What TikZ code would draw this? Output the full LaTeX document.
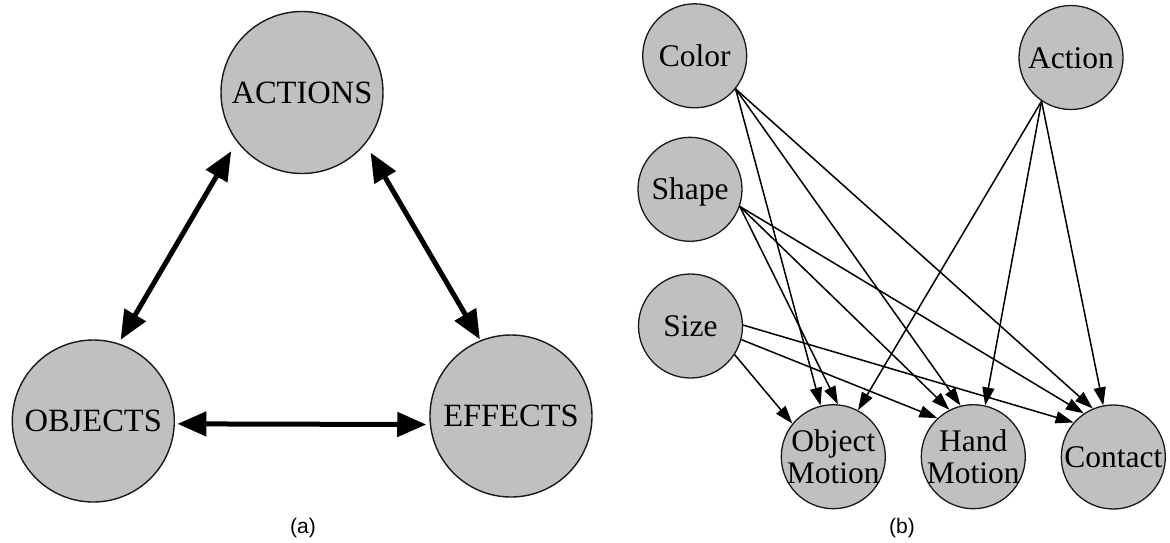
\documentclass[tikz,border=0pt]{standalone}
\usepackage{fontspec}
\setmainfont{Liberation Serif}
\newfontfamily\capfont{Liberation Sans}
\usetikzlibrary{arrows.meta}
\definecolor{nodegray}{RGB}{192,192,192}
\begin{document}
\begin{tikzpicture}[x=1pt,y=-1pt,
  bigcirc/.style={circle, draw=black!90, line width=1.4pt, fill=nodegray,
    minimum size=162pt, inner sep=0pt, font=\fontsize{32.5}{34}\selectfont},
  smallcirc/.style={circle, draw=black!90, line width=1.3pt, fill=nodegray,
    minimum size=104pt, inner sep=-6pt, align=center,
    font=\fontsize{31.5}{31.5}\selectfont},
  oneline/.style={text height=21pt, text depth=0pt},
  bigarrow/.style={line width=5pt,
    {Triangle[length=29pt,width=24pt]}-{Triangle[length=29pt,width=24pt]}},
  thinarrow/.style={line width=1.5pt, -{Triangle[length=18pt,width=12pt]}},
  caption/.style={font=\capfont\fontsize{21}{24}\selectfont}]
\useasboundingbox (0,0) rectangle (1170,542);

% panel (a)
\node[bigcirc] (actions) at (302,92.5) {ACTIONS};
\node[bigcirc] (objects) at (93.3,421) {OBJECTS};
\node[bigcirc] (effects) at (511,416) {EFFECTS};
\draw[bigarrow, shorten <=11pt, shorten >=4pt] (actions.217) -- (objects.72);
\draw[bigarrow, shorten <=10pt, shorten >=1pt] (actions.-39) -- (effects.112);
\draw[bigarrow, shorten <=2.5pt, shorten >=3.5pt] (objects.-2) -- (effects.186);
\node[caption] (capa) at (303,528) {(a)};

% panel (b)
\node[smallcirc, oneline] (color) at (694.7,55.8) {Color};
\node[smallcirc, oneline] (shape) at (690,189.3) {Shape};
\node[smallcirc, oneline] (size) at (690.5,326) {Size};
\node[smallcirc, oneline] (action) at (1071,57.5) {Action};
\node[smallcirc] (om) at (833.3,456.7) {Object\\Motion};
\node[smallcirc] (hm) at (973.3,456.7) {Hand\\Motion};
\node[smallcirc, oneline] (contact) at (1113.3,457) {Contact};

\draw[thinarrow] (color.-39) -- (om.104);
\draw[thinarrow] (color.-39) -- (hm.104);
\draw[thinarrow] (color.-39) -- (contact.113);
\draw[thinarrow] (shape.-19) -- (om.85);
\draw[thinarrow] (shape.-19) -- (hm.117);
\draw[thinarrow] (shape.-19) -- (contact.124);
\draw[thinarrow] (size.-33) -- (om.141);
\draw[thinarrow] (size.-15) -- (hm.133);
\draw[thinarrow] (size.1) -- (contact.139);
\draw[thinarrow] (action.236) -- (om.62);
\draw[thinarrow] (action.236) -- (hm.77);
\draw[thinarrow] (action.236) -- (contact.101);
\node[caption] (capb) at (902,528) {(b)};
\end{tikzpicture}
\end{document}
